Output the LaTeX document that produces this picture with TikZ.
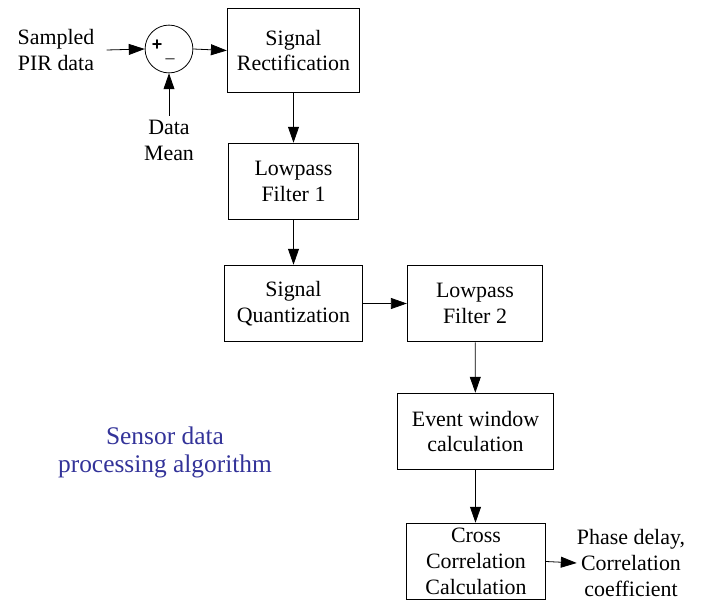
\documentclass[tikz,border=0pt]{standalone}
\usepackage{fontspec}
\setmainfont{Liberation Serif}
\newfontfamily\plusfont{Liberation Sans}
\usetikzlibrary{arrows.meta}
\definecolor{algoblue}{RGB}{51,51,153}
\tikzset{
 blockbox/.style={draw,line width=0.8pt,align=center,minimum height=77,inner sep=0pt},
 flow/.style={-{Triangle[length=16pt,width=11pt]},line width=0.8pt},
 txt/.style={align=center,inner sep=0pt}
}
\begin{document}
\begin{tikzpicture}[x=1bp,y=-1bp,font=\fontsize{22}{26}\selectfont]
 \useasboundingbox (0,0) rectangle (709,604);
 % input stage
 \node[txt] (pir) at (56,50) {Sampled\\PIR data};
 \node[draw,circle,line width=0.8pt,minimum size=48,inner sep=0pt] (sum) at (169,49) {};
 \node[inner sep=0pt,font=\fontsize{18}{18}\plusfont\bfseries] (plus) at (157,45) {+};
 \node[inner sep=0pt,font=\fontsize{18}{18}\selectfont] (minus) at (170,61) {--};
 \node[txt] (mean) at (169,140) {Data\\Mean};
 % blocks
 \node[blockbox,minimum width=133,minimum height=85] (rect) at (293.5,50.5) {Signal\\Rectification};
 \node[blockbox,minimum width=131] (lp1) at (293.5,181.5) {Lowpass\\Filter 1};
 \node[blockbox,minimum width=139] (quant) at (293.5,303.5) {Signal\\Quantization};
 \node[blockbox,minimum width=136] (lp2) at (475,303.5) {Lowpass\\Filter 2};
 \node[blockbox,minimum width=157] (event) at (475.5,431.5) {Event window\\calculation};
 \node[blockbox,minimum width=140] (xcorr) at (476,561.5) {Cross\\Correlation\\Calculation};
 \node[txt] (out) at (631,563) {Phase delay,\\Correlation\\coefficient};
 \node[txt,text=algoblue,font=\fontsize{25.5}{28}\selectfont] (title) at (165,452) {Sensor data\\processing algorithm};
 % connectors
 \draw[flow] (pir.east)+(12,0) -- (sum.west);
 \draw[flow] (mean.north)+(0,-4) -- (sum.south);
 \draw[flow] (sum.east) -- (rect.west);
 \draw[flow] (rect) -- (lp1);
 \draw[flow] (lp1) -- (quant);
 \draw[flow] (quant) -- (lp2);
 \draw[flow] (lp2) -- (event);
 \draw[flow] (event.south) -- (event.south|-xcorr.north);
 \draw[flow] (xcorr.east) -- (out.west);
\end{tikzpicture}
\end{document}
